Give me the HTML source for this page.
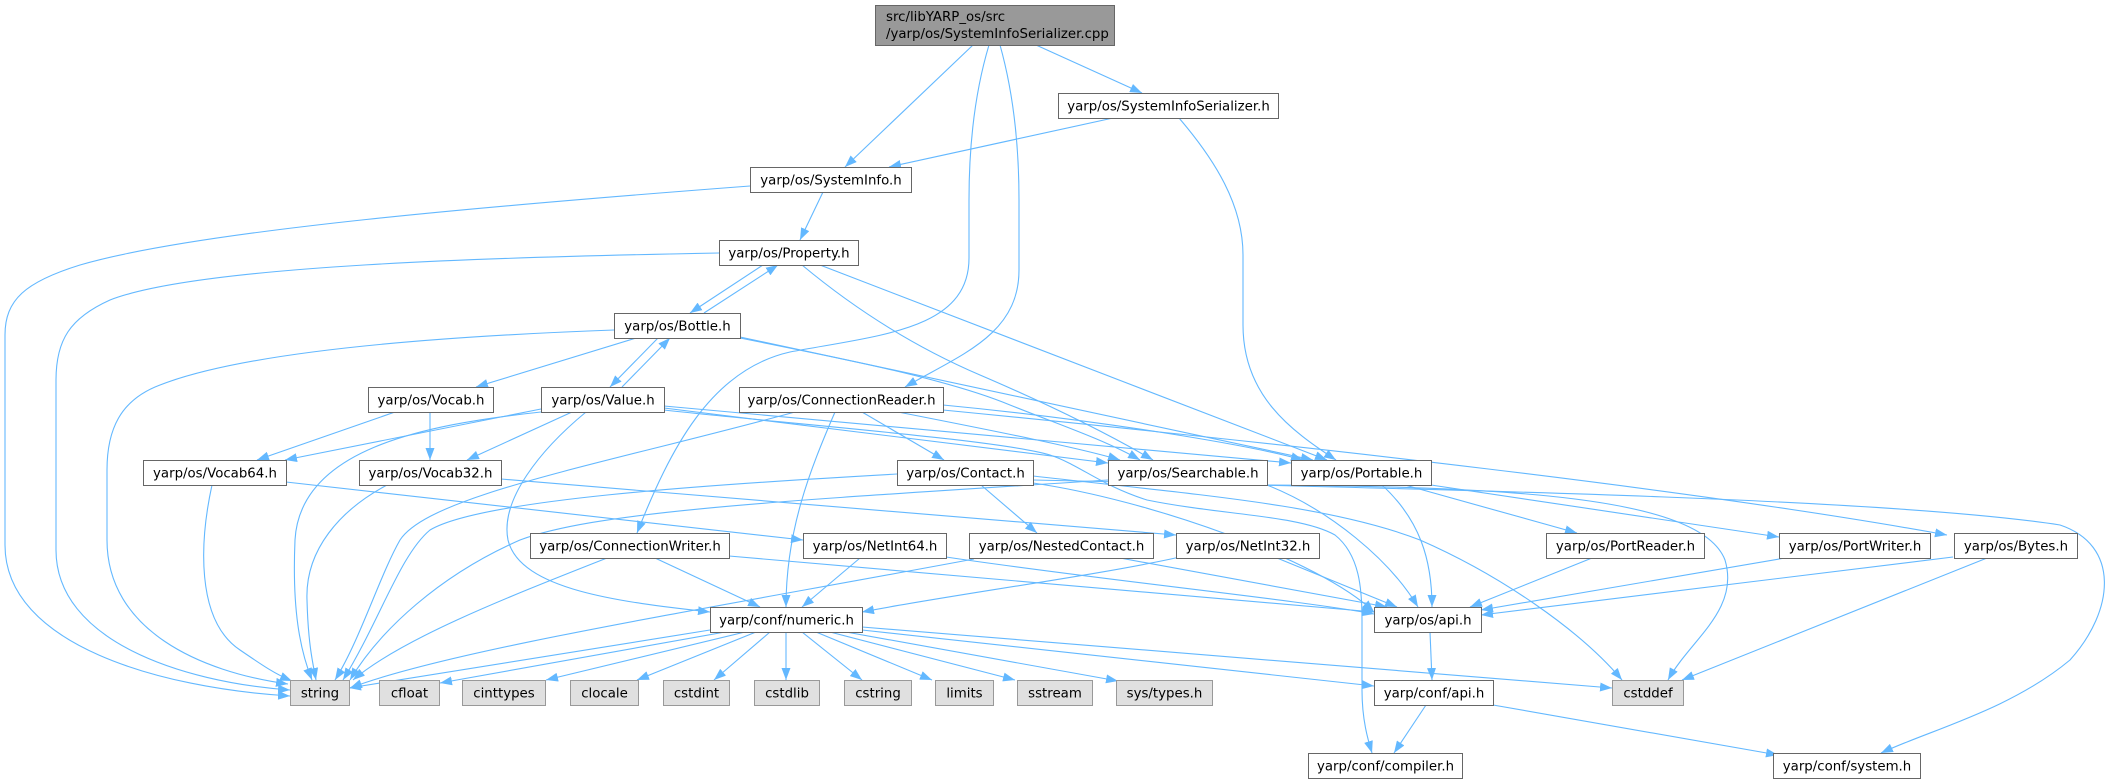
<!DOCTYPE html>
<html><head><meta charset="utf-8"><style>
html,body{margin:0;padding:0;background:#fff;}
svg{display:block}
text{font-family:"DejaVu Sans","Liberation Sans",sans-serif;font-size:13.33px;fill:#000;}
.e{fill:none;stroke:#63B8FF;stroke-width:1.1;marker-end:url(#a);}
.n{fill:#fff;stroke:#666;stroke-width:1;}
.g{fill:#E0E0E0;stroke:#999;stroke-width:1;}
.r{fill:#999;stroke:#666;stroke-width:1;}
</style></head><body>
<svg width="2114" height="784" viewBox="0 0 2114 784" xmlns="http://www.w3.org/2000/svg">
<defs><marker id="a" markerUnits="userSpaceOnUse" markerWidth="12" markerHeight="9" refX="12" refY="4.5" orient="auto" viewBox="0 0 12 9"><path d="M0,0L12,4.5L0,9z" fill="#63B8FF"/></marker></defs>
<rect width="2114" height="784" fill="#fff"/>
<g>
<path class="e" d="M973,45 L845,167"/>
<path class="e" d="M1036,45 L1142,93"/>
<path class="e" d="M989,45 C974,95 969,150 969,200 L969,258 C969,330 880,335 790,352 C710,370 670,450 637,533"/>
<path class="e" d="M1000,45 C1014,95 1019,150 1019,200 L1019,270 C1019,335 960,355 905,387"/>
<path class="e" d="M1113,118 L889,167"/>
<path class="e" d="M1179,118 C1215,160 1243,205 1243,255 L1243,325 C1243,395 1290,430 1336,460"/>
<path class="e" d="M750,186 C500,205 200,230 80,265 C25,282 5,300 5,335 L5,545 C5,645 160,688 290,696"/>
<path class="e" d="M719,253 C500,257 200,265 110,300 C70,318 56,340 56,380 L56,550 C56,640 180,682 290,690"/>
<path class="e" d="M823,192 L800,240"/>
<path class="e" d="M763,265 L690,313"/>
<path class="e" d="M704,313 L778,265"/>
<path class="e" d="M802,265 C850,305 910,345 980,375 C1050,405 1110,435 1153,460"/>
<path class="e" d="M820,265 L1327,460"/>
<path class="e" d="M614,330 C450,336 250,350 160,385 C120,400 107,430 107,470 L107,540 C107,630 200,672 288,684"/>
<path class="e" d="M636,338 L476,387"/>
<path class="e" d="M658,338 L610,387"/>
<path class="e" d="M622,387 L670,338"/>
<path class="e" d="M740,338 C850,360 950,380 1010,405 C1060,425 1105,440 1140,460"/>
<path class="e" d="M740,337 L1313,460"/>
<path class="e" d="M395,412 L257,460"/>
<path class="e" d="M430,412 L430,460"/>
<path class="e" d="M541,409 L285,460"/>
<path class="e" d="M572,412 L467,460"/>
<path class="e" d="M541,412 C420,425 300,450 295,540 C292,610 300,650 312,680"/>
<path class="e" d="M586,412 C540,450 500,500 508,540 C520,590 620,602 710,612"/>
<path class="e" d="M664,408 L1108,463"/>
<path class="e" d="M664,406 L1291,463"/>
<path class="e" d="M664,410 C800,425 1000,440 1050,455 C1080,465 1100,485 1147,500 C1220,515 1300,515 1335,535 C1360,555 1362,590 1362,620 L1362,690 C1362,720 1368,740 1372,753"/>
<path class="e" d="M795,412 C600,465 430,495 400,540 C380,575 360,640 335,680"/>
<path class="e" d="M835,412 C810,470 786,530 786,607"/>
<path class="e" d="M862,412 L944,460"/>
<path class="e" d="M898,412 C1000,432 1080,448 1120,460"/>
<path class="e" d="M943,405 C1100,420 1250,445 1303,460"/>
<path class="e" d="M943,410 C1300,445 1700,490 1947,535"/>
<path class="e" d="M212,485 C200,540 195,620 240,650 C262,665 275,674 292,681"/>
<path class="e" d="M286,482 L803,540"/>
<path class="e" d="M387,485 C340,510 305,550 307,600 C308,640 312,660 316,680"/>
<path class="e" d="M501,479 L1176,535"/>
<path class="e" d="M897,474 C700,485 480,500 430,530 C400,555 380,620 343,680"/>
<path class="e" d="M981,485 L1037,533"/>
<path class="e" d="M1033,483 C1150,500 1320,560 1374,612"/>
<path class="e" d="M1033,480 C1500,490 1900,500 2060,525 C2120,545 2115,610 2070,660 C2010,710 1930,730 1881,753"/>
<path class="e" d="M1033,476 C1200,495 1330,505 1420,540 C1500,575 1580,630 1622,680"/>
<path class="e" d="M1108,480 C800,500 600,510 520,540 C440,575 380,630 350,680"/>
<path class="e" d="M1267,485 C1330,510 1390,560 1418,607"/>
<path class="e" d="M1267,485 C1500,487 1700,495 1725,560 C1740,610 1690,640 1668,680"/>
<path class="e" d="M1382,485 C1420,520 1432,560 1432,607"/>
<path class="e" d="M1405,485 L1577,533"/>
<path class="e" d="M1431,485 L1779,537"/>
<path class="e" d="M607,558 C500,600 400,640 353,680"/>
<path class="e" d="M655,558 L760,607"/>
<path class="e" d="M729,556 L1374,612"/>
<path class="e" d="M860,558 L802,607"/>
<path class="e" d="M946,557 C1100,580 1300,600 1374,614"/>
<path class="e" d="M974,559 C700,610 450,650 350,688"/>
<path class="e" d="M1120,558 L1387,607"/>
<path class="e" d="M1180,557 C1100,575 950,595 862,612"/>
<path class="e" d="M1277,558 L1397,607"/>
<path class="e" d="M1592,558 L1470,607"/>
<path class="e" d="M1785,558 L1481,610"/>
<path class="e" d="M1953,557 L1481,615"/>
<path class="e" d="M1987,558 L1682,680"/>
<path class="e" d="M710,630 L349,688"/>
<path class="e" d="M725,632 L440,683"/>
<path class="e" d="M745,632 L546,680"/>
<path class="e" d="M756,632 L637,680"/>
<path class="e" d="M770,632 L714,680"/>
<path class="e" d="M786,632 L786,680"/>
<path class="e" d="M802,632 L862,680"/>
<path class="e" d="M816,632 L932,680"/>
<path class="e" d="M830,632 L1015,680"/>
<path class="e" d="M846,632 L1118,681"/>
<path class="e" d="M862,630 L1374,686"/>
<path class="e" d="M862,627 L1612,688"/>
<path class="e" d="M1430,632 L1432,680"/>
<path class="e" d="M1426,705 L1394,753"/>
<path class="e" d="M1493,705 L1778,755"/>
</g>
<g>
<rect class="r" x="875.5" y="5.5" width="239" height="40"/>
<text x="886" y="21">src/libYARP_os/src</text>
<text x="886" y="38">/yarp/os/SystemInfoSerializer.cpp</text>

<rect class="n" x="1058.5" y="93.5" width="220" height="25"/><text x="1168.5" y="110.5" text-anchor="middle">yarp/os/SystemInfoSerializer.h</text>
<rect class="n" x="750.5" y="167.5" width="161" height="25"/><text x="831" y="184.5" text-anchor="middle">yarp/os/SystemInfo.h</text>
<rect class="n" x="719.5" y="240.5" width="139" height="25"/><text x="789" y="257.5" text-anchor="middle">yarp/os/Property.h</text>
<rect class="n" x="614.5" y="313.5" width="126" height="25"/><text x="677.5" y="330.5" text-anchor="middle">yarp/os/Bottle.h</text>
<rect class="n" x="368.5" y="387.5" width="125" height="25"/><text x="431" y="404.5" text-anchor="middle">yarp/os/Vocab.h</text>
<rect class="n" x="541.5" y="387.5" width="123" height="25"/><text x="603" y="404.5" text-anchor="middle">yarp/os/Value.h</text>
<rect class="n" x="739.5" y="387.5" width="204" height="25"/><text x="841.5" y="404.5" text-anchor="middle">yarp/os/ConnectionReader.h</text>
<rect class="n" x="143.5" y="460.5" width="143" height="25"/><text x="215" y="477.5" text-anchor="middle">yarp/os/Vocab64.h</text>
<rect class="n" x="359.5" y="460.5" width="142" height="25"/><text x="430.5" y="477.5" text-anchor="middle">yarp/os/Vocab32.h</text>
<rect class="n" x="897.5" y="460.5" width="136" height="25"/><text x="965.5" y="477.5" text-anchor="middle">yarp/os/Contact.h</text>
<rect class="n" x="1108.5" y="460.5" width="159" height="25"/><text x="1188" y="477.5" text-anchor="middle">yarp/os/Searchable.h</text>
<rect class="n" x="1291.5" y="460.5" width="140" height="25"/><text x="1361.5" y="477.5" text-anchor="middle">yarp/os/Portable.h</text>
<rect class="n" x="530.5" y="533.5" width="199" height="25"/><text x="630" y="550.5" text-anchor="middle">yarp/os/ConnectionWriter.h</text>
<rect class="n" x="803.5" y="533.5" width="143" height="25"/><text x="875" y="550.5" text-anchor="middle">yarp/os/NetInt64.h</text>
<rect class="n" x="969.5" y="533.5" width="184" height="25"/><text x="1061.5" y="550.5" text-anchor="middle">yarp/os/NestedContact.h</text>
<rect class="n" x="1176.5" y="533.5" width="143" height="25"/><text x="1248" y="550.5" text-anchor="middle">yarp/os/NetInt32.h</text>
<rect class="n" x="1546.5" y="533.5" width="158" height="25"/><text x="1625.5" y="550.5" text-anchor="middle">yarp/os/PortReader.h</text>
<rect class="n" x="1779.5" y="533.5" width="151" height="25"/><text x="1855" y="550.5" text-anchor="middle">yarp/os/PortWriter.h</text>
<rect class="n" x="1954.5" y="533.5" width="123" height="25"/><text x="2016" y="550.5" text-anchor="middle">yarp/os/Bytes.h</text>
<rect class="n" x="710.5" y="607.5" width="152" height="25"/><text x="786.5" y="624.5" text-anchor="middle">yarp/conf/numeric.h</text>
<rect class="n" x="1374.5" y="607.5" width="107" height="25"/><text x="1428" y="624.5" text-anchor="middle">yarp/os/api.h</text>

<rect class="g" x="290.5" y="680.5" width="59" height="25"/><text x="320" y="697.5" text-anchor="middle">string</text>
<rect class="g" x="379.5" y="680.5" width="60" height="25"/><text x="409.5" y="697.5" text-anchor="middle">cfloat</text>
<rect class="g" x="462.5" y="680.5" width="83" height="25"/><text x="504" y="697.5" text-anchor="middle">cinttypes</text>
<rect class="g" x="570.5" y="680.5" width="68" height="25"/><text x="604.5" y="697.5" text-anchor="middle">clocale</text>
<rect class="g" x="663.5" y="680.5" width="66" height="25"/><text x="696.5" y="697.5" text-anchor="middle">cstdint</text>
<rect class="g" x="754.5" y="680.5" width="65" height="25"/><text x="787" y="697.5" text-anchor="middle">cstdlib</text>
<rect class="g" x="844.5" y="680.5" width="67" height="25"/><text x="878" y="697.5" text-anchor="middle">cstring</text>
<rect class="g" x="935.5" y="680.5" width="58" height="25"/><text x="964.5" y="697.5" text-anchor="middle">limits</text>
<rect class="g" x="1017.5" y="680.5" width="75" height="25"/><text x="1055" y="697.5" text-anchor="middle">sstream</text>
<rect class="g" x="1116.5" y="680.5" width="96" height="25"/><text x="1164.5" y="697.5" text-anchor="middle">sys/types.h</text>
<rect class="n" x="1374.5" y="680.5" width="119" height="25"/><text x="1434" y="697.5" text-anchor="middle">yarp/conf/api.h</text>
<rect class="g" x="1612.5" y="680.5" width="71" height="25"/><text x="1648" y="697.5" text-anchor="middle">cstddef</text>
<rect class="n" x="1308.5" y="753.5" width="154" height="25"/><text x="1385.5" y="770.5" text-anchor="middle">yarp/conf/compiler.h</text>
<rect class="n" x="1773.5" y="753.5" width="147" height="25"/><text x="1847" y="770.5" text-anchor="middle">yarp/conf/system.h</text>
</g>
</svg>
</body></html>
